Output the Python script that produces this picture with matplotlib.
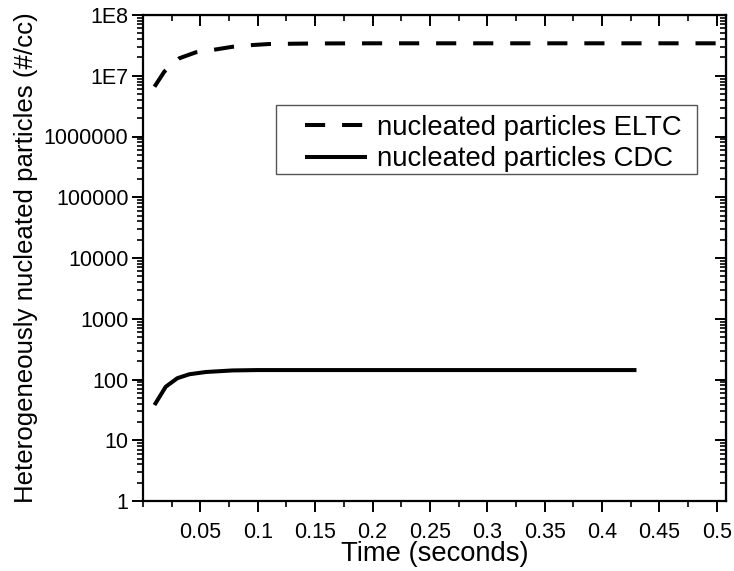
import matplotlib
matplotlib.use("Agg")
import matplotlib.pyplot as plt
from matplotlib.patches import Rectangle
from matplotlib.ticker import FixedLocator, LogLocator, MultipleLocator, NullFormatter

plt.rcParams['font.family'] = ['Liberation Sans', 'DejaVu Sans']

# Time (s) and nucleated particle concentration (#/cc)
eltc_time = [0.01, 0.0186, 0.0317, 0.046, 0.064, 0.078, 0.095, 0.11, 0.15, 0.2, 0.3, 0.4, 0.5]
eltc_particles = [6.6e6, 1.17e7, 1.94e7, 2.43e7, 2.72e7, 3.0e7, 3.2e7, 3.33e7, 3.4e7, 3.42e7, 3.42e7, 3.42e7, 3.42e7]

cdc_time = [0.01, 0.0198, 0.0299, 0.0404, 0.055, 0.078, 0.1, 0.15, 0.2, 0.3, 0.43]
cdc_particles = [38, 76, 105, 122, 133, 141, 143, 143, 143, 143, 143]

y_ticks = [1, 10, 100, 1000, 10000, 100000, 1000000, 1e7, 1e8]
y_tick_labels = ['1', '10', '100', '1000', '10000', '100000', '1000000', '1E7', '1E8']
x_ticks = [0.05, 0.1, 0.15, 0.2, 0.25, 0.3, 0.35, 0.4, 0.45, 0.5]
x_tick_labels = ['0.05', '0.1', '0.15', '0.2', '0.25', '0.3', '0.35', '0.4', '0.45', '0.5']

W, H = 734, 571
fig = plt.figure(figsize=(W / 100, H / 100), dpi=100)
ax = fig.add_axes([143 / W, 70 / H, 583 / W, 486 / H])

lw = 2.9
ax.plot(eltc_time, eltc_particles, color='black', lw=lw, linestyle=(0, (5, 4.2)),
        label='nucleated particles ELTC')
ax.plot(cdc_time, cdc_particles, color='black', lw=lw, solid_capstyle='butt',
        label='nucleated particles CDC')

ax.set_yscale('log')
ax.set_xlim(0, 0.508)
ax.set_ylim(1, 1e8)

ax.xaxis.set_major_locator(FixedLocator(x_ticks))
ax.set_xticklabels(x_tick_labels)
ax.xaxis.set_minor_locator(MultipleLocator(0.025))
ax.yaxis.set_major_locator(FixedLocator(y_ticks))
ax.set_yticklabels(y_tick_labels)
ax.yaxis.set_minor_locator(LogLocator(base=10, subs=range(2, 10), numticks=20))
ax.yaxis.set_minor_formatter(NullFormatter())

for side in ax.spines.values():
    side.set_linewidth(1.6)

ax.tick_params(which='major', length=8, width=1.4, labelsize=15.5)
ax.tick_params(which='minor', length=4.5, width=1.2)
ax.tick_params(which='both', bottom=True, left=True, direction='out')
ax.tick_params(axis='x', which='major', pad=7)
ax.tick_params(axis='y', which='major', pad=2.5)

# mirrored ticks on top and right point inward
ax2 = ax.secondary_xaxis('top')
ax2.xaxis.set_major_locator(FixedLocator(x_ticks))
ax2.xaxis.set_minor_locator(MultipleLocator(0.025))
ax2.tick_params(which='major', direction='in', length=8, width=1.4, labeltop=False)
ax2.tick_params(which='minor', direction='in', length=4.5, width=1.2)
ay2 = ax.secondary_yaxis('right')
ay2.set_yscale('log')
ay2.yaxis.set_major_locator(FixedLocator(y_ticks))
ay2.yaxis.set_minor_locator(LogLocator(base=10, subs=range(2, 10), numticks=20))
ay2.yaxis.set_minor_formatter(NullFormatter())
ay2.tick_params(which='major', direction='in', length=8, width=1.4, labelright=False)
ay2.tick_params(which='minor', direction='in', length=4.5, width=1.2)

ax.set_xlabel('Time (seconds)', fontsize=19.7, labelpad=-1)
ax.set_ylabel('Heterogeneously nucleated particles (#/cc)', fontsize=18.6, labelpad=4)

# legend entries without frame, boxed by a separate rectangle
leg = ax.legend(loc='upper left', bbox_to_anchor=(305 / W, 1 - 115 / H),
                bbox_transform=fig.transFigure, fontsize=19.8, frameon=False,
                handlelength=2.25, handletextpad=0.36, labelspacing=0.2,
                borderpad=0, borderaxespad=0)
fig.patches.append(Rectangle((276 / W, 1 - 174 / H), 421 / W, 69 / H,
                             transform=fig.transFigure, fill=False,
                             edgecolor='#555555', linewidth=1.0, zorder=5))

fig.savefig('out.png', dpi=100)
